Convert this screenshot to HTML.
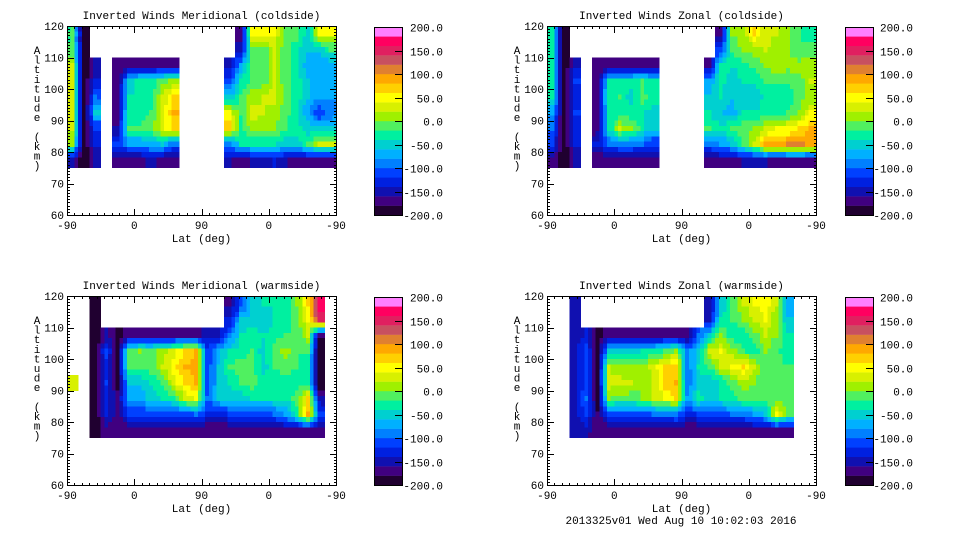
<!DOCTYPE html>
<html><head><meta charset="utf-8">
<style>
html,body{margin:0;padding:0;background:#fff;}
svg{display:block;}
text{font-family:"Liberation Mono",monospace;font-size:11px;fill:#000;}
</style></head>
<body>
<svg id="fig" width="960" height="540" viewBox="0 0 960 540" xmlns="http://www.w3.org/2000/svg"></svg>
<script>
const levels=[-200,-180,-160,-140,-120,-100,-80,-60,-40,-20,0,20,40,60,80,100,120,140,160,180,200];
const bandColors=["#200030","#400080","#1010b0","#0020e0","#0040ff","#0080ff","#00b0ff","#00d0d0","#00f0a0","#50f060","#a0f000","#d8f000","#ffff00","#ffd000","#ffa800","#e08030","#c85060","#e02060","#ff0060","#ff80ff"];
const cbLabels=["200.0","150.0","100.0","50.0","0.0","-50.0","-100.0","-150.0","-200.0"];
const cbValues=[200,150,100,50,0,-50,-100,-150,-200];
const xTickLabels=["-90","0","90","0","-90"];
const yTickValues=[60,70,80,90,100,110,120];
const rowTops=[120,115,110,105,100,95,90,85,80,75];
const n=null;
const titles=["Inverted Winds Meridional (coldside)","Inverted Winds Zonal (coldside)","Inverted Winds Meridional (warmside)","Inverted Winds Zonal (warmside)"];
const merCold=[
[-20,-200,n,n,n,n,n,n,n,n,n,n,n,n,n,-180,40,40,40,-10,-10,-50,40,40],
[-20,-200,n,n,n,n,n,n,n,n,n,n,n,n,n,-150,-10,-10,20,-10,-40,-60,-60,-20],
[20,-200,-150,n,-180,-170,-170,-170,-170,-170,n,n,n,n,-150,-80,-20,-10,20,-10,-40,-70,-80,-80],
[20,-200,-140,n,-180,-60,-30,-30,-10,10,n,n,n,n,-120,-30,-20,-10,20,-10,-30,-60,-70,-80],
[20,-200,-100,n,-180,-40,-30,-30,20,60,n,n,n,n,-60,-20,10,20,30,-10,-30,-60,-70,-80],
[20,-200,-60,n,-180,-30,-30,-20,30,80,n,n,n,n,40,-20,30,20,10,-10,-40,-80,-120,-90],
[20,-200,-120,n,-160,-20,-20,-10,30,60,n,n,n,n,70,-30,10,0,0,-20,-30,-50,-60,-60],
[0,-200,-140,n,-120,-80,-80,-70,-60,-100,n,n,n,n,-100,-40,-40,-40,-40,-50,-50,-20,20,20],
[-160,-200,-150,n,-180,-180,-180,-150,-180,-180,n,n,n,n,-160,-170,-160,-150,-140,-160,-170,-170,-170,-170],
[n,n,n,n,n,n,n,n,n,n,n,n,n,n,n,n,n,n,n,n,n,n,n,n]];
const zonCold=[
[-30,-200,n,n,n,n,n,n,n,n,n,n,n,n,n,-180,0,10,60,30,20,0,-20,-30],
[-30,-200,n,n,n,n,n,n,n,n,n,n,n,n,n,-120,-10,0,10,20,10,0,-20,-10],
[-30,-200,-150,n,-180,-180,-180,-180,-180,-170,n,n,n,n,-170,-30,-40,-30,-10,0,10,10,10,10],
[-30,-200,-120,n,-170,-40,-30,-30,-20,-40,n,n,n,n,-80,-30,-50,-40,-40,-20,-10,-20,-10,20],
[-30,-200,-130,n,-170,-30,-20,-50,-10,-30,n,n,n,n,-60,-40,-60,-50,-50,-40,-40,-30,-10,10],
[-80,-200,-120,n,-170,-40,-30,-30,-40,-50,n,n,n,n,-40,-60,-70,-40,-40,-30,-30,-20,0,40],
[-100,-200,-140,n,-170,-40,20,0,-30,-60,n,n,n,n,-20,-40,-20,-10,0,20,40,40,60,80],
[-120,-200,-140,n,-140,-100,-90,-90,-100,-120,n,n,n,n,-100,-80,-60,-20,20,80,90,100,110,90],
[-170,-200,-160,n,-180,-180,-180,-180,-180,-180,n,n,n,n,-170,-170,-170,-160,-160,-160,-170,-170,-170,-170],
[n,n,n,n,n,n,n,n,n,n,n,n,n,n,n,n,n,n,n,n,n,n,n,n]];
const merWarm=[
[n,n,-200,n,n,n,n,n,n,n,n,n,n,n,-170,-120,-60,-40,-40,-30,0,60,170,n],
[n,n,-200,n,n,n,n,n,n,n,n,n,n,n,-140,-60,-50,-60,-40,-30,-10,40,150,n],
[n,n,-200,-160,-190,-170,-170,-170,-170,-170,-170,-170,-150,-150,-100,-40,-30,-40,-30,-20,-20,20,-180,n],
[n,n,-200,-110,-190,-20,0,-10,10,30,60,80,-120,-70,-40,-30,-20,-50,-10,10,-20,-20,-200,n],
[n,n,-200,-130,-190,-20,-10,-10,20,50,80,90,-120,-60,-20,-10,-10,-50,-20,-10,-20,-30,-200,n],
[20,n,-200,-120,-190,-60,-60,-40,-20,30,60,80,-120,-60,-40,-20,-10,-30,-30,-30,-30,-30,-200,n],
[n,n,-200,-130,-170,-70,-80,-50,-40,-30,20,40,-100,-60,-50,-50,-40,-40,-40,-40,-10,60,-150,n],
[n,n,-200,-140,-170,-120,-120,-110,-110,-120,-110,-100,-130,-130,-120,-120,-110,-110,-100,-80,-30,80,-120,n],
[n,n,-200,-170,-170,-180,-180,-180,-180,-180,-180,-180,-180,-180,-180,-180,-180,-180,-170,-170,-170,-170,-170,n],
[n,n,n,n,n,n,n,n,n,n,n,n,n,n,n,n,n,n,n,n,n,n,n,n]];
const zonWarm=[
[n,n,-150,n,n,n,n,n,n,n,n,n,n,n,-160,-60,-20,20,40,50,20,-80,n,n],
[n,n,-150,n,n,n,n,n,n,n,n,n,n,n,-150,-40,-20,0,20,40,0,-60,n,n],
[n,n,-150,-140,-190,-170,-170,-170,-170,-170,-170,-170,-170,-100,-50,0,-30,-40,-10,20,0,-40,n,n],
[n,n,-150,-110,-190,-60,-60,-50,-40,-40,-20,10,-90,-60,30,40,10,-20,-30,0,-20,-30,n,n],
[n,n,-150,-110,-190,20,0,10,10,30,60,70,-100,-40,-20,20,40,60,20,-20,-10,-20,n,n],
[n,n,-150,-110,-190,30,30,20,0,20,70,80,-100,-50,-60,-40,-10,10,0,-20,-10,-20,n,n],
[n,n,-150,-100,-190,0,-10,-10,0,20,40,60,-80,-30,-50,-40,-30,-10,-10,-10,-10,-10,n,n],
[n,n,-150,-110,-180,-110,-110,-110,-110,-100,-100,-90,-130,-120,-110,-110,-100,-100,-80,-60,40,-10,n,n],
[n,n,-160,-150,-180,-180,-180,-180,-180,-180,-180,-180,-180,-180,-180,-180,-170,-170,-170,-170,-170,-170,n,n],
[n,n,n,n,n,n,n,n,n,n,n,n,n,n,n,n,n,n,n,n,n,n,n,n]];
const grids=[merCold,zonCold,merWarm,zonWarm];
const panelNames=["meridional-coldside","zonal-coldside","meridional-warmside","zonal-warmside"];

const NS="http://www.w3.org/2000/svg";
const svg=document.getElementById('fig');
function mk(tag,attrs,parent){const e=document.createElementNS(NS,tag);for(const k in attrs)e.setAttribute(k,attrs[k]);(parent||svg).appendChild(e);return e;}
function colorFor(v){for(let i=0;i<bandColors.length;i++){if(v<levels[i+1])return bandColors[i];}return bandColors[bandColors.length-1];}
function sample(grid,fr,fc){
  // bilinear in cell-center coordinates, skipping nulls
  const r0=Math.floor(fr),c0=Math.floor(fc);const dr=fr-r0,dc=fc-c0;
  let s=0,w=0;
  [[r0,c0,(1-dr)*(1-dc)],[r0,c0+1,(1-dr)*dc],[r0+1,c0,dr*(1-dc)],[r0+1,c0+1,dr*dc]].forEach(([r,c,wt])=>{
    if(r<0||c<0||r>=grid.length||c>=grid[0].length)return;
    const v=grid[r][c];if(v===null||wt<=0)return;s+=v*wt;w+=wt;
  });
  return w>0?s/w:null;
}

const layout=[{x:67,y:26,cb:374,lab:443},{x:547,y:26,cb:845,lab:913},{x:67,y:296,cb:374,lab:443},{x:547,y:296,cb:845,lab:913}];
const W=269,H=189,SUB=3;

layout.forEach((L,p)=>{
  const g=mk('g',{});
  
  
  const xs=i=>L.x+i*W/24;
  const ys=a=>L.y+H-(a-60)*H/60;
  const grid=grids[p];
  const cells=mk('g',{'shape-rendering':'crispEdges'},g);
  
  
  grid.forEach((row,r)=>{
    row.forEach((v,c)=>{
      if(v===null)return;
      const y0=ys(rowTops[r]),y1=ys(rowTops[r]-5);
      const cw=W/24,ch=(y1-y0);
      for(let a=0;a<SUB;a++){for(let b=0;b<SUB;b++){
        const fr=r+(a+0.5)/SUB-0.5, fc=c+(b+0.5)/SUB-0.5;
        const val=sample(grid,fr,fc);
        const rc=mk('rect',{x:xs(c)+b*cw/SUB,y:y0+a*ch/SUB,width:cw/SUB+0.4,height:ch/SUB+0.4,fill:colorFor(val===null?v:val)},cells);
        
        
      }}
    });
  });
  const fr=mk('rect',{x:L.x+0.5,y:L.y+0.5,width:W,height:H,fill:'none',stroke:'#000','stroke-width':1},g);
  
  
  for(let a=60;a<=120;a++){
    const y=Math.round(ys(a))+0.5;
    const len=(a%10===0)?7:3;
    mk('line',{x1:L.x,x2:L.x+len,y1:y,y2:y,stroke:'#000'},g);
    mk('line',{x1:L.x+W+1,x2:L.x+W+1-len,y1:y,y2:y,stroke:'#000'},g);
  }
  yTickValues.forEach(a=>{
    const t=mk('text',{x:L.x-3,y:ys(a)+4,'text-anchor':'end'},g);
    t.textContent=String(a);
    
    
  });
  for(let k=0;k<=36;k++){
    const x=Math.round(L.x+k*W/36)+0.5;
    const len=(k%9===0)?7:3;
    mk('line',{x1:x,x2:x,y1:L.y+H+1,y2:L.y+H+1-len,stroke:'#000'},g);
    mk('line',{x1:x,x2:x,y1:L.y,y2:L.y+len,stroke:'#000'},g);
  }
  xTickLabels.forEach((s,k)=>{
    const t=mk('text',{x:L.x+k*W/4,y:L.y+H+14,'text-anchor':'middle'},g);
    t.textContent=s;
    
    
  });
  const xt=mk('text',{x:L.x+W/2,y:L.y+H+27,'text-anchor':'middle'},g);
  xt.textContent='Lat (deg)';
  
  
  const tt=mk('text',{x:L.x+W/2,y:L.y-7,'text-anchor':'middle'},g);
  tt.textContent=titles[p];
  
  
  const ya=mk('g',{},g);
  
  
  'Altitude (km)'.split('').forEach((ch,i)=>{
    const t=mk('text',{x:L.x-30,y:L.y+28+i*9.6,'text-anchor':'middle'},ya);
    t.textContent=ch;
  });
  const cb=mk('g',{},g);
  
  
  const cbTop=L.y+1,cbH=188,cbW=28;
  const cy=v=>cbTop+cbH-(v+200)*cbH/400;
  bandColors.forEach((col,i)=>{
    const y0=cy(levels[i+1]),y1=cy(levels[i]);
    const r=mk('rect',{x:L.cb,y:y0,width:cbW,height:y1-y0+0.2,fill:col},cb);
    
    
  });
  mk('rect',{x:L.cb+0.5,y:cbTop+0.5,width:cbW,height:cbH,fill:'none',stroke:'#000'},cb);
  cbValues.forEach((v,i)=>{
    const y=Math.round(cy(v))+0.5;
    mk('line',{x1:L.cb+cbW,x2:L.cb+cbW-7,y1:y,y2:y,stroke:'#000'},cb);
    const t=mk('text',{x:L.lab,y:y+4,'text-anchor':'end'},cb);
    t.textContent=cbLabels[i];
    
    
  });
});
const ft=mk('text',{x:681,y:524,'text-anchor':'middle'});
ft.textContent='2013325v01 Wed Aug 10 10:02:03 2016';


</script>
</body></html>
